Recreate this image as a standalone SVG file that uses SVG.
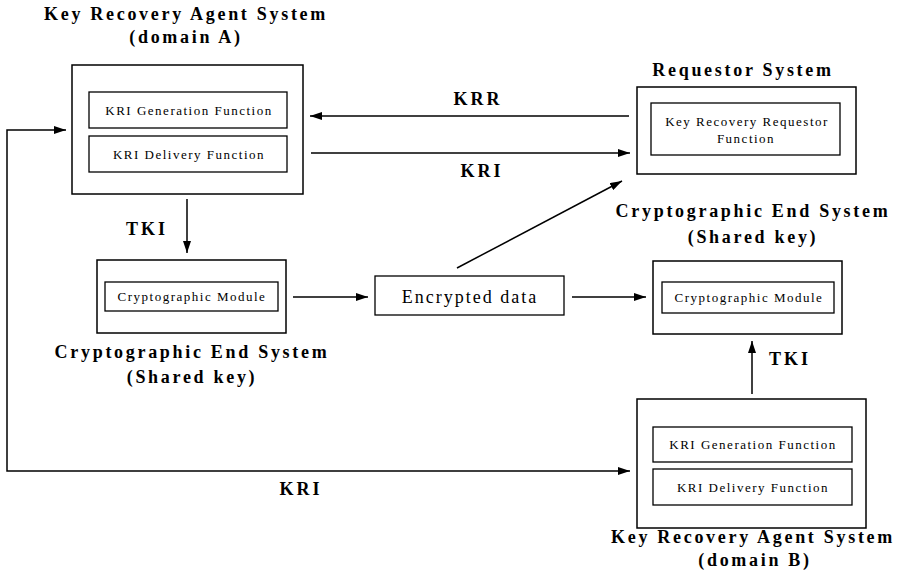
<svg xmlns="http://www.w3.org/2000/svg" width="901" height="584" viewBox="0 0 901 584">
<style>
.bg{fill:#fff}
.outer{fill:#fff;stroke:#000;stroke-width:1.5}
.inner{fill:#fff;stroke:#000;stroke-width:1.3}
.title{font-family:"Liberation Serif","Times New Roman",serif;font-weight:bold;font-size:18px;letter-spacing:2.7px;fill:#000;text-anchor:middle}
.lbl{font-family:"Liberation Serif","Times New Roman",serif;font-weight:bold;font-size:18px;letter-spacing:3px;fill:#000;text-anchor:middle}
.fn{font-family:"Liberation Serif","Times New Roman",serif;font-size:13px;letter-spacing:1.5px;fill:#000;text-anchor:middle}
.big{font-family:"Liberation Serif","Times New Roman",serif;font-size:18px;letter-spacing:2px;fill:#000;text-anchor:middle}
.conn{fill:none;stroke:#000;stroke-width:1.5}
</style>
<defs>
<marker id="arr" viewBox="0 0 12 8" refX="12" refY="4" markerWidth="12" markerHeight="8" markerUnits="userSpaceOnUse" orient="auto-start-reverse">
<path d="M0,0 L12,4 L0,8 Z" fill="#000"/>
</marker>
</defs>
<rect class="bg" x="0" y="0" width="901" height="584"/>

<g id="kras-a">
<text class="title" x="186" y="20">Key Recovery Agent System</text>
<text class="title" x="186" y="43">(domain A)</text>
<rect class="outer" x="72" y="65" width="231" height="129"/>
<rect class="inner" x="89" y="92" width="198" height="36"/>
<text class="fn" x="189" y="115">KRI Generation Function</text>
<rect class="inner" x="89" y="136" width="198" height="36"/>
<text class="fn" x="189" y="159">KRI Delivery Function</text>
</g>

<g id="requestor">
<text class="title" x="743" y="76">Requestor System</text>
<rect class="outer" x="637" y="87" width="219" height="87"/>
<rect class="inner" x="651" y="103" width="189" height="52"/>
<text class="fn" x="747" y="126">Key Recovery Requestor</text>
<text class="fn" x="746" y="143">Function</text>
</g>

<g id="ces-a">
<rect class="outer" x="97" y="260" width="189" height="73"/>
<rect class="inner" x="105" y="282" width="173" height="29"/>
<text class="fn" x="192" y="301">Cryptographic Module</text>
<text class="title" x="192" y="358">Cryptographic End System</text>
<text class="title" x="192" y="383">(Shared key)</text>
</g>

<g id="encrypted">
<rect class="inner" x="375" y="276" width="189" height="39"/>
<text class="big" x="470" y="303">Encrypted data</text>
</g>

<g id="ces-b">
<text class="title" x="753" y="217">Cryptographic End System</text>
<text class="title" x="753" y="243">(Shared key)</text>
<rect class="outer" x="653" y="261" width="189" height="73"/>
<rect class="inner" x="662" y="282" width="172" height="31"/>
<text class="fn" x="749" y="302">Cryptographic Module</text>
</g>

<g id="kras-b">
<rect class="outer" x="637" y="399" width="229" height="129"/>
<rect class="inner" x="653" y="427" width="199" height="35"/>
<text class="fn" x="753" y="449">KRI Generation Function</text>
<rect class="inner" x="653" y="469" width="199" height="36"/>
<text class="fn" x="753" y="492">KRI Delivery Function</text>
<text class="title" x="753" y="543">Key Recovery Agent System</text>
<text class="title" x="755" y="566">(domain B)</text>
</g>

<g id="connectors">
<line class="conn" x1="629" y1="116" x2="310" y2="116" marker-end="url(#arr)"/>
<text class="lbl" x="478" y="105">KRR</text>
<line class="conn" x1="311" y1="153" x2="630" y2="153" marker-end="url(#arr)"/>
<text class="lbl" x="482" y="177">KRI</text>
<line class="conn" x1="457" y1="268" x2="622" y2="181" marker-end="url(#arr)"/>
<line class="conn" x1="187" y1="199" x2="187" y2="253" marker-end="url(#arr)"/>
<text class="lbl" x="147" y="235">TKI</text>
<line class="conn" x1="293" y1="297" x2="368" y2="297" marker-end="url(#arr)"/>
<line class="conn" x1="572" y1="297" x2="646" y2="297" marker-end="url(#arr)"/>
<line class="conn" x1="752" y1="394" x2="752" y2="341" marker-end="url(#arr)"/>
<text class="lbl" x="790" y="365">TKI</text>
<polyline class="conn" points="66,130 7,130 7,471 630,471" marker-start="url(#arr)" marker-end="url(#arr)"/>
<text class="lbl" x="301" y="495">KRI</text>
</g>
</svg>
